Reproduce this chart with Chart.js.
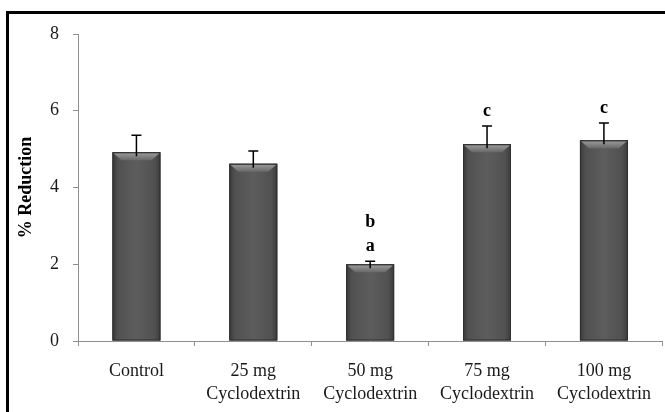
<!DOCTYPE html>
<html>
<head>
<meta charset="utf-8">
<script src="https://cdn.jsdelivr.net/npm/chart.js@4.4.1/dist/chart.umd.min.js"></script>
<style>
  body { margin: 0; background: #fff; }
  #wrap { position: relative; width: 665px; height: 412px; overflow: hidden; }
  #frame { position: absolute; left: 6px; top: 11px; width: 700px; height: 450px;
           border-left: 3px solid #000; border-top: 3px solid #000; }
  canvas { position: absolute; left: 0; top: 0; }
</style>
</head>
<body>
<div id="wrap">
  <div id="frame"></div>
  <canvas id="myChart" width="665" height="412"></canvas>
</div>
<script>
const categories = ['Control', ['25 mg', 'Cyclodextrin'], ['50 mg', 'Cyclodextrin'], ['75 mg', 'Cyclodextrin'], ['100 mg', 'Cyclodextrin']];
const reduction = [4.92, 4.62, 2.0, 5.13, 5.23];
const errorUp = [0.44, 0.33, 0.08, 0.47, 0.45];
const sigLetters = [[], [], ['a', 'b'], ['c'], ['c']];
const yTicks = [0, 2, 4, 6, 8];

const serif = '"Liberation Serif", "Times New Roman", serif';

// shading on the bars, error bars and letters
const extras = {
    id: 'extras',
    afterDatasetsDraw(chart) {
        const ctx = chart.ctx;
        const yScale = chart.scales.y;
        const meta = chart.getDatasetMeta(0);
        meta.data.forEach(function(bar, i) {
            const half = bar.width / 2;
            const left = bar.x - half, right = bar.x + half;
            const top = bar.y, bottom = bar.base;

            ctx.save();
            let g = ctx.createLinearGradient(left, 0, right, 0);
            g.addColorStop(0, '#3a3a3a');
            g.addColorStop(0.12, '#515151');
            g.addColorStop(0.5, '#5d5d5d');
            g.addColorStop(0.88, '#515151');
            g.addColorStop(1, '#3a3a3a');
            ctx.fillStyle = g;
            ctx.fillRect(left, top, right - left, bottom - top);

            // top bevel
            let b = ctx.createLinearGradient(0, top, 0, top + 8);
            b.addColorStop(0, '#a0a0a0');
            b.addColorStop(1, '#686868');
            ctx.fillStyle = b;
            ctx.beginPath();
            ctx.moveTo(left + 1, top + 1);
            ctx.lineTo(right - 1, top + 1);
            ctx.lineTo(right - 9, top + 8);
            ctx.lineTo(left + 9, top + 8);
            ctx.closePath();
            ctx.fill();

            ctx.strokeStyle = '#2e2e2e';
            ctx.lineWidth = 1;
            ctx.strokeRect(left + 0.5, top + 0.5, right - left - 1, bottom - top - 1);

            // error bar (upper half only)
            const yErr = yScale.getPixelForValue(reduction[i] + errorUp[i]);
            ctx.strokeStyle = '#000';
            ctx.lineWidth = 1.5;
            ctx.beginPath();
            ctx.moveTo(bar.x, top + 4);
            ctx.lineTo(bar.x, yErr);
            ctx.moveTo(bar.x - 5, yErr);
            ctx.lineTo(bar.x + 5, yErr);
            ctx.stroke();

            // significance letters
            ctx.fillStyle = '#000';
            ctx.font = 'bold 18px ' + serif;
            ctx.textAlign = 'center';
            ctx.textBaseline = 'middle';
            sigLetters[i].forEach(function(letter, k) {
                ctx.fillText(letter, bar.x, yErr - 15 - k * 24);
            });
            ctx.restore();
        });
    }
};

var ctx = document.getElementById('myChart').getContext('2d');
var chart = new Chart(ctx, {
    type: 'bar',
    data: {
        labels: categories,
        datasets: [{
            label: '% Reduction',
            data: reduction,
            backgroundColor: '#555555',
            borderWidth: 0,
            barPercentage: 0.41,
            categoryPercentage: 1.0
        }]
    },
    plugins: [extras],
    options: {
        responsive: false,
        animation: false,
        layout: { padding: { top: 34, right: 1, left: 0, bottom: 0 } },
        plugins: {
            legend: { display: false },
            tooltip: { enabled: false }
        },
        scales: {
            x: {
                afterFit: function(scale) { scale.height = 71; },
                border: { color: '#8f8f8f', width: 1 },
                grid: { drawOnChartArea: false, drawTicks: true, tickLength: 5, color: '#8f8f8f' },
                ticks: {
                    color: '#1a1a1a',
                    padding: 14,
                    maxRotation: 0,
                    autoSkip: false,
                    font: { family: serif, size: 18, lineHeight: 1.28 }
                }
            },
            y: {
                min: 0,
                max: 8,
                afterFit: function(scale) { scale.width = 78; },
                afterBuildTicks: function(scale) {
                    scale.ticks = yTicks.map(function(v) { return { value: v }; });
                },
                border: { color: '#8f8f8f', width: 1 },
                grid: { drawOnChartArea: false, drawTicks: true, tickLength: 5, color: '#8f8f8f' },
                ticks: {
                    color: '#1a1a1a',
                    padding: 14,
                    font: { family: serif, size: 18 }
                },
                title: {
                    display: true,
                    text: '% Reduction',
                    color: '#000',
                    padding: { top: 16, bottom: 0 },
                    font: { family: serif, size: 18, weight: 'bold' }
                }
            }
        }
    }
});
</script>
</body>
</html>
